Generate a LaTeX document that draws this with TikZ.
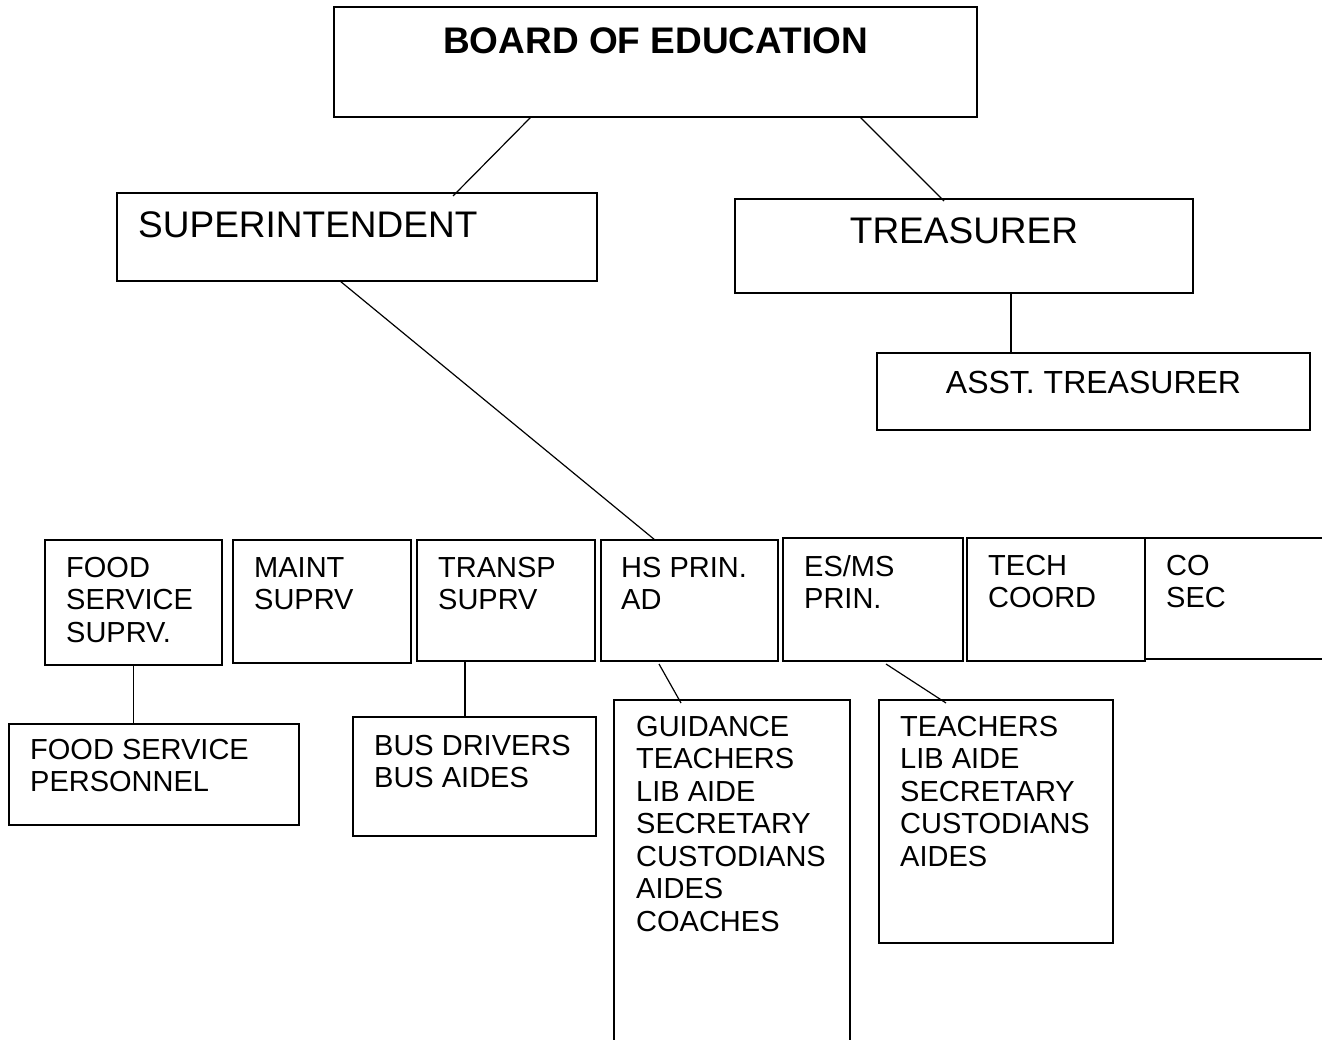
\documentclass[tikz,border=0pt]{standalone}
\usepackage{fontspec}
\setmainfont{Liberation Sans}
\begin{document}
\begin{tikzpicture}[x=1pt,y=-1pt,
   font=\fontsize{29}{32.5}\selectfont,
   unit/.style={draw,line width=1.8pt,inner sep=0pt,outer sep=0pt,anchor=north west},
   txt/.style={inner sep=0pt,align=left,anchor=north west,xshift=21,yshift=-17},
   ctxt/.style={inner sep=0pt,align=center,anchor=north,yshift=-18},
   big/.style={font=\fontsize{37}{42}\selectfont},
   bold/.style={font=\fontsize{37}{42}\selectfont\bfseries},
   link/.style={line width=1.2pt}]
\clip (0,0) rectangle (1322,1040);
% top of the chart
\node[unit,minimum width=643,minimum height=110,label={[ctxt,bold,yshift=-2]north:BOARD OF EDUCATION}] (board) at (334,7) {};
\node[unit,minimum width=480,minimum height=88,label={[txt,big,yshift=-1]north west:SUPERINTENDENT}] (super) at (117,193) {};
\node[unit,minimum width=458,minimum height=94,label={[ctxt,big]north:TREASURER}] (treas) at (735,199) {};
\node[unit,minimum width=433,minimum height=77,label={[ctxt,font=\fontsize{32}{36}\selectfont]north:ASST. TREASURER}] (asst) at (877,353) {};
% department heads
\node[unit,minimum width=177,minimum height=125,label={[txt]north west:FOOD\\SERVICE\\SUPRV.}] (food) at (45,540) {};
\node[unit,minimum width=178,minimum height=123,label={[txt]north west:MAINT\\SUPRV}] (maint) at (233,540) {};
\node[unit,minimum width=178,minimum height=121,label={[txt]north west:TRANSP\\SUPRV}] (transp) at (417,540) {};
\node[unit,minimum width=177,minimum height=121,label={[txt,xshift=-1]north west:HS PRIN.\\AD}] (hsprin) at (601,540) {};
\node[unit,minimum width=180,minimum height=123,label={[txt]north west:ES/MS\\PRIN.}] (esms) at (783,538) {};
\node[unit,minimum width=178,minimum height=123,label={[txt]north west:TECH\\COORD}] (tech) at (967,538) {};
\node[unit,minimum width=200,minimum height=121,label={[txt]north west:CO\\SEC}] (cosec) at (1145,538) {};
% staff
\node[unit,minimum width=290,minimum height=101,label={[txt,yshift=2]north west:FOOD SERVICE\\PERSONNEL}] (foodstaff) at (9,724) {};
\node[unit,minimum width=243,minimum height=119,label={[txt,yshift=-1]north west:BUS DRIVERS\\BUS AIDES}] (bus) at (353,717) {};
\node[unit,minimum width=236,minimum height=400,label={[txt,xshift=1,yshift=1]north west:GUIDANCE\\TEACHERS\\LIB AIDE\\SECRETARY\\CUSTODIANS\\AIDES\\COACHES}] (hsstaff) at (614,700) {};
\node[unit,minimum width=234,minimum height=243,label={[txt,yshift=1]north west:TEACHERS\\LIB AIDE\\SECRETARY\\CUSTODIANS\\AIDES}] (esstaff) at (879,700) {};
% lines
\draw[link] ([xshift=197]board.south west) -- ([xshift=336,yshift=-3]super.north west);
\draw[link] ([xshift=526]board.south west) -- ([xshift=209,yshift=-2]treas.north west);
\draw[link] ([xshift=223]super.south west) -- ([xshift=54]hsprin.north west);
\draw[link] ([xshift=276]treas.south west) -- ([xshift=134]asst.north west);
\draw[link] (food.south) -- (food.south |- foodstaff.north);
\draw[link] ([xshift=48]transp.south west) -- ([xshift=112]bus.north west);
\draw[link] ([xshift=58,yshift=-3]hsprin.south west) -- ([xshift=67,yshift=-3]hsstaff.north west);
\draw[link] ([xshift=103,yshift=-3]esms.south west) -- ([xshift=67,yshift=-3]esstaff.north west);
\end{tikzpicture}
\end{document}
